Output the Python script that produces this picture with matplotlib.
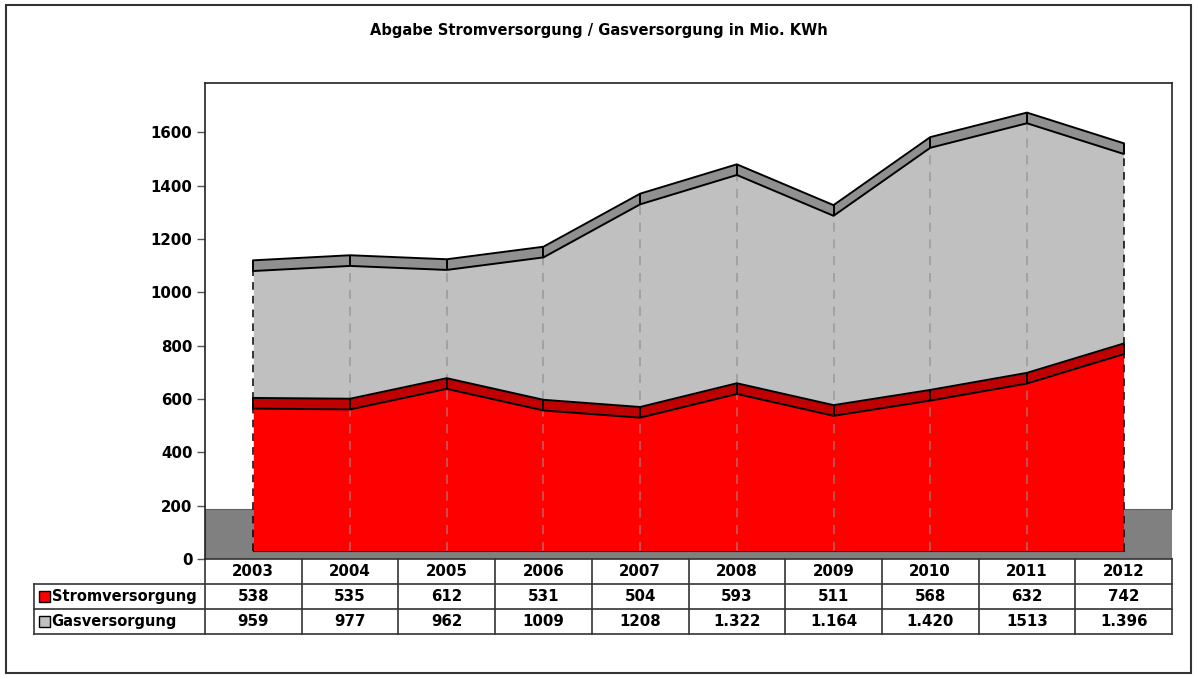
import matplotlib.pyplot as plt
import matplotlib.transforms as mtransforms
from matplotlib.patches import Rectangle

years = ["2003", "2004", "2005", "2006", "2007", "2008", "2009", "2010", "2011", "2012"]
strom = [538, 535, 612, 531, 504, 593, 511, 568, 632, 742]
gas = [959, 977, 962, 1009, 1208, 1322, 1164, 1420, 1513, 1396]
gas_labels = ["959", "977", "962", "1009", "1208", "1.322", "1.164", "1.420", "1513", "1.396"]
# gas surface as it is drawn in the chart (sits above the table values)
gas_drawn = [1054, 1073, 1058, 1105, 1304, 1414, 1261, 1516, 1608, 1493]

base = 30      # floor level of the 3D ribbons
lift = 26      # front edge offset
depth = 40     # thickness of the top band
floor_top = 186

plt.rcParams["font.family"] = "DejaVu Sans"
plt.rcParams["font.weight"] = "bold"

fig = plt.figure(figsize=(11.98, 6.79), dpi=100)
ax = fig.add_axes([205 / 1198, 1 - 559 / 679, 967 / 1198, 476 / 679])

x = list(range(len(years)))
ax.set_xlim(-0.5, len(years) - 0.5)
ax.set_ylim(0, 1785)

# floor
ax.add_patch(Rectangle((-0.5, 0), len(years), floor_top, facecolor="#808080",
                       edgecolor="#606060", lw=0.8, zorder=1))


def ribbon(vals, face, top, z):
    front = [v + lift for v in vals]
    back = [v + lift + depth for v in vals]
    ax.fill_between(x, base, front, color=face, lw=0, zorder=z)
    ax.fill_between(x, front, back, color=top, lw=0, zorder=z + 0.2)
    ax.plot(x, front, color="black", lw=1.4, zorder=z + 0.4)
    ax.plot(x, back, color="black", lw=1.4, zorder=z + 0.4)
    ax.vlines(x, front, back, color="black", lw=1.4, zorder=z + 0.4)
    return front


gas_front = ribbon(gas_drawn, "#c0c0c0", "#909090", 2)
ax.vlines(x[1:-1], base, gas_front[1:-1], color="#8a8a8a", lw=1.1,
          linestyles=(0, (6, 5)), alpha=0.7, zorder=2.1)
strom_front = ribbon(strom, "#ff0000", "#c00000", 3)
ax.vlines(x[1:-1], base, strom_front[1:-1], color="#a0a0a0", lw=1.1,
          linestyles=(0, (6, 5)), alpha=0.6, zorder=3.1)
ax.vlines([x[0], x[-1]], base, gas_front[0::len(x) - 1], color="black", lw=1.1,
          linestyles=(0, (5, 4)), zorder=3.3)
ax.plot(x, [base] * len(x), color="#600000", lw=0.8, zorder=3.3)

ax.set_yticks(range(0, 1601, 200))
ax.tick_params(axis="y", length=6, width=1, color="#555555", labelsize=10.8, pad=3)
ax.set_xticks([])
ax.spines["bottom"].set_visible(False)
for s in ["left", "top", "right"]:
    ax.spines[s].set_color("#222222")
    ax.spines[s].set_linewidth(1.2)
ax.spines["right"].set_bounds(floor_top, 1785)

# data table below the plot
tr = mtransforms.blended_transform_factory(ax.transData, ax.transAxes)
row = 25 / 476
lab_left = -2.27
lc = "#333333"
fs = 10.8
for i in range(len(years) + 1):
    ax.plot([i - 0.5, i - 0.5], [0, -3 * row], color=lc, lw=1.2, transform=tr, clip_on=False)
ax.plot([-0.5, 9.5], [0, 0], color=lc, lw=1.2, transform=tr, clip_on=False)
for k in (1, 2, 3):
    ax.plot([lab_left, 9.5], [-k * row, -k * row], color=lc, lw=1.2, transform=tr, clip_on=False)
ax.plot([lab_left, lab_left], [-row, -3 * row], color=lc, lw=1.2, transform=tr, clip_on=False)

for i, yr in enumerate(years):
    ax.text(i, -0.5 * row, yr, ha="center", va="center", fontsize=fs, transform=tr)
    ax.text(i, -1.5 * row, str(strom[i]), ha="center", va="center", fontsize=fs, transform=tr)
    ax.text(i, -2.5 * row, gas_labels[i], ha="center", va="center", fontsize=fs, transform=tr)

for k, (name, col) in enumerate([("Stromversorgung", "#ff0000"), ("Gasversorgung", "#c0c0c0")]):
    yc = -(k + 1.5) * row
    ax.add_patch(Rectangle((-2.22, yc - 0.0115), 0.114, 0.023, facecolor=col,
                           edgecolor="black", lw=1, transform=tr, clip_on=False))
    ax.text(-2.085, yc, name, ha="left", va="center", fontsize=10.5, transform=tr)

fig.text(0.5, 1 - 31 / 679, "Abgabe Stromversorgung / Gasversorgung in Mio. KWh",
         ha="center", va="center", fontsize=10.5, fontweight="bold")
fig.patches.append(Rectangle((6 / 1198, 1 - 673 / 679), 1185 / 1198, 668 / 679,
                             transform=fig.transFigure, fill=False, edgecolor="#333333", lw=1.5))

fig.savefig("out.png", dpi=100)
